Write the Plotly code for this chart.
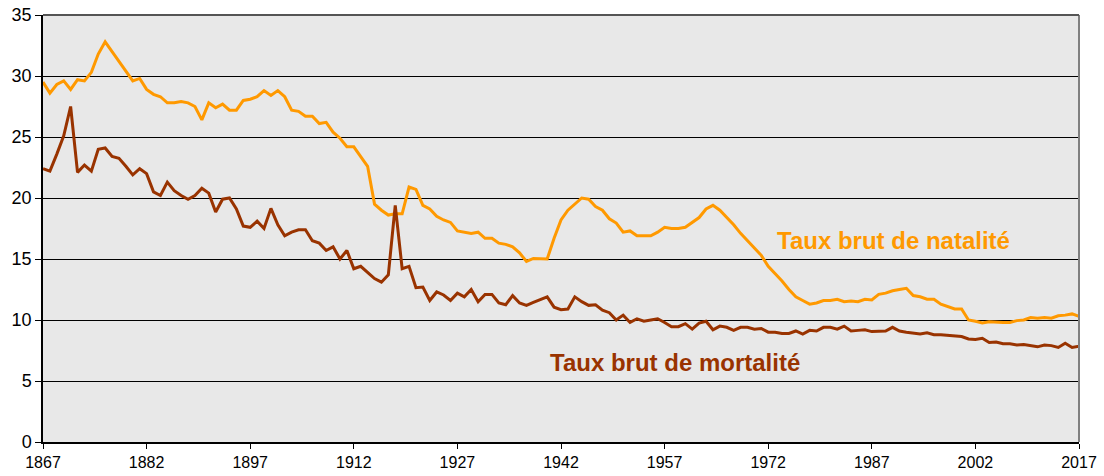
import plotly.graph_objects as go

years = list(range(1867, 2018))

natalite = [
    29.5, 28.6, 29.3, 29.6, 28.9, 29.7, 29.6, 30.3, 31.8, 32.8,
    32.0, 31.2, 30.5, 29.6, 29.8, 28.9, 28.5, 28.3, 27.8, 27.8,
    27.9, 27.8, 27.5, 26.4, 27.8, 27.4, 27.7, 27.2, 27.2, 28.0,
    28.1, 28.3, 28.8, 28.4, 28.8, 28.3, 27.2, 27.1, 26.7, 26.7,
    26.1, 26.2, 25.4, 24.9, 24.2, 24.2, 23.4, 22.6, 19.5, 19.0,
    18.6, 18.7, 18.7, 20.9, 20.7, 19.4, 19.1, 18.5, 18.2, 18.0,
    17.3, 17.2, 17.1, 17.2, 16.7, 16.7, 16.3, 16.2, 16.0, 15.5,
    14.8, 15.05, 15.0, 15.0, 16.7, 18.2, 19.0, 19.5, 20.0, 19.9,
    19.3, 19.0, 18.3, 17.95, 17.2, 17.3, 16.9, 16.9, 16.9, 17.2,
    17.6, 17.5, 17.5, 17.6, 18.0, 18.4, 19.1, 19.4, 19.0, 18.4,
    17.8, 17.1, 16.5, 15.9, 15.3, 14.4, 13.8, 13.2, 12.5, 11.9,
    11.6, 11.3, 11.4, 11.6, 11.6, 11.7, 11.5, 11.55, 11.5, 11.7,
    11.65, 12.1, 12.2, 12.4, 12.5, 12.6, 12.0, 11.9, 11.7, 11.7,
    11.3, 11.1, 10.9, 10.9, 10.0, 9.9, 9.75, 9.85, 9.8, 9.8,
    9.8, 9.95, 10.0, 10.2, 10.15, 10.2, 10.15, 10.35, 10.4, 10.5,
    10.3,
]

mortalite = [
    22.4, 22.2, 23.6, 25.1, 27.5, 22.1, 22.7, 22.2, 24.0, 24.1,
    23.4, 23.25, 22.6, 21.9, 22.4, 22.0, 20.5, 20.2, 21.3, 20.6,
    20.2, 19.9, 20.2, 20.8, 20.4, 18.85, 19.9, 20.0, 19.1, 17.7,
    17.6, 18.1, 17.5, 19.15, 17.8, 16.9, 17.2, 17.4, 17.4, 16.5,
    16.3, 15.7, 16.0, 15.0, 15.7, 14.2, 14.4, 13.9, 13.4, 13.1,
    13.7, 19.4, 14.2, 14.4, 12.65, 12.7, 11.6, 12.3, 12.05, 11.6,
    12.2, 11.9, 12.5, 11.5, 12.1, 12.1, 11.4, 11.25, 12.0, 11.4,
    11.2, 11.45, 11.7, 11.9, 11.05, 10.85, 10.9, 11.9, 11.5, 11.2,
    11.25, 10.8, 10.6, 10.0, 10.4, 9.8, 10.1, 9.9, 10.0, 10.1,
    9.8, 9.45, 9.45, 9.7, 9.25, 9.75, 9.9, 9.2, 9.5, 9.4,
    9.15, 9.4, 9.4, 9.25, 9.3, 9.0, 9.0, 8.9, 8.9, 9.1,
    8.85, 9.15, 9.1, 9.4, 9.4, 9.25, 9.5, 9.1, 9.15, 9.2,
    9.05, 9.1, 9.1, 9.4, 9.1, 9.0, 8.95, 8.85, 8.95, 8.8,
    8.8, 8.75, 8.7, 8.65, 8.45, 8.4, 8.5, 8.15, 8.2, 8.05,
    8.05, 7.95, 8.0, 7.9, 7.8, 7.95, 7.9, 7.75, 8.1, 7.75,
    7.85,
]

x_ticks = [1867, 1882, 1897, 1912, 1927, 1942, 1957, 1972, 1987, 2002, 2017]
y_ticks = [0, 5, 10, 15, 20, 25, 30, 35]

label_nat = "Taux brut de natalité"
label_mort = "Taux brut de mortalité"

ORANGE = "#FF9900"
BROWN = "#993300"
FONT = "Liberation Sans, Arial, sans-serif"

fig = go.Figure()
fig.add_trace(go.Scatter(x=years, y=natalite, mode="lines", name=label_nat,
                         line=dict(color=ORANGE, width=3)))
fig.add_trace(go.Scatter(x=years, y=mortalite, mode="lines", name=label_mort,
                         line=dict(color=BROWN, width=3)))

fig.add_annotation(x=1990.1, y=16.5, text="<b>" + label_nat + "</b>", showarrow=False,
                   font=dict(family=FONT, size=24, color=ORANGE))
fig.add_annotation(x=1958.5, y=6.55, text="<b>" + label_mort + "</b>", showarrow=False,
                   font=dict(family=FONT, size=24, color=BROWN))

# plot-area frame (top and right)
fig.add_shape(type="line", xref="paper", yref="paper", x0=1, x1=1, y0=0, y1=1,
              line=dict(color="#808080", width=2))
fig.add_shape(type="line", xref="paper", yref="paper", x0=0, x1=1, y0=1, y1=1,
              line=dict(color="#555555", width=2))

fig.update_layout(
    width=1104, height=476,
    margin=dict(l=43, r=25, t=15, b=34),
    paper_bgcolor="white",
    plot_bgcolor="#E8E8E8",
    showlegend=False,
    font=dict(family=FONT, size=16, color="black"),
    xaxis=dict(
        range=[1867, 2017], tickmode="array", tickvals=x_ticks,
        ticktext=[str(v) for v in x_ticks],
        showgrid=False, zeroline=False, automargin=False,
        showline=True, linecolor="black", linewidth=1.5,
        ticks="outside", ticklen=5, tickcolor="black",
        tickfont=dict(family=FONT, size=16),
    ),
    yaxis=dict(
        range=[0, 35], tickmode="array", tickvals=y_ticks,
        showgrid=True, gridcolor="black", gridwidth=1,
        zeroline=False, automargin=False,
        showline=True, linecolor="black", linewidth=1.5,
        ticks="outside", ticklen=6, tickcolor="black",
        tickfont=dict(family=FONT, size=18),
    ),
)

fig.write_html(
    "out.html",
    config={"displayModeBar": False},
    post_script=(
        "document.documentElement.style.margin='0';"
        "document.body.style.margin='0';document.body.style.padding='0';"
        "document.body.style.overflow='hidden';"
    ),
)
